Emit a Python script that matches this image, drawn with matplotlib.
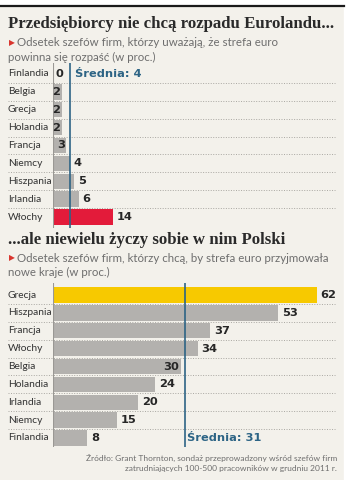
import matplotlib
matplotlib.use("Agg")
import matplotlib.pyplot as plt
from matplotlib.patches import Rectangle
import matplotlib.transforms as mtransforms

# Dane - wykres 1
kraje_1 = ["Finlandia", "Belgia", "Grecja", "Holandia", "Francja",
           "Niemcy", "Hiszpania", "Irlandia", "Włochy"]
wartosci_1 = [0, 2, 2, 2, 3, 4, 5, 6, 14]
kolory_1 = ["#b3b1ae"] * 8 + ["#e31b3a"]
srednia_1 = 4

# Dane - wykres 2
kraje_2 = ["Grecja", "Hiszpania", "Francja", "Włochy", "Belgia",
           "Holandia", "Irlandia", "Niemcy", "Finlandia"]
wartosci_2 = [62, 53, 37, 34, 30, 24, 20, 15, 8]
kolory_2 = ["#f7c900"] + ["#b3b1ae"] * 8
srednia_2 = 31

W, H = 348, 480
TLO = "#f3f1eb"
NIEBIESKI = "#2d6485"
SZARY_TXT = "#6e6e6e"
CIEMNY = "#262626"
FONT = ["Lato", "DejaVu Sans"]

fig = plt.figure(figsize=(W / 100, H / 100), dpi=100)
fig.patch.set_facecolor(TLO)


def fx(px):
    return px / W


def fy(py):
    return 1 - py / H


# biały pas u góry i z prawej strony + czarna linia
fig.patches.append(Rectangle((0, fy(5)), 1, 1 - fy(5), transform=fig.transFigure,
                             color="white", zorder=0))
fig.patches.append(Rectangle((fx(344), 0), 1 - fx(344), 1, transform=fig.transFigure,
                             color="white", zorder=0))
fig.lines.append(plt.Line2D([0, fx(344)], [fy(5.5), fy(5.5)], transform=fig.transFigure,
                            color="#1a1a1a", lw=1.6))


def naglowek(y_tyt, tytul, y_pod, linie):
    fig.text(fx(8), fy(y_tyt), tytul, family="Liberation Serif", weight="bold",
             size=12.1, color="#2a2a2a", va="center", ha="left")
    fig.text(fx(9), fy(y_pod), "▶", family="DejaVu Sans", size=5.5,
             color="#d9352e", va="center", ha="left")
    for i, linia in enumerate(linie):
        x = 17 if i == 0 else 8
        fig.text(fx(x), fy(y_pod + 14 * i), linia, family=FONT, size=8.3,
                 color=SZARY_TXT, va="center", ha="left")


def wykres(y_gora, y_dol, y_pierwszy, krok, kraje, wartosci, kolory, srednia,
           sr_wiersz, sr_dx):
    lewo, prawo = 53, 340
    ax = fig.add_axes([fx(lewo), fy(y_dol), fx(prawo - lewo), (y_dol - y_gora) / H])
    ax.set_facecolor("none")
    ax.set_xlim(0, (prawo - lewo) / 4.25)
    n = len(kraje)
    ax.set_ylim(n - 1 + (y_dol - (y_pierwszy + krok * (n - 1))) / krok,
                -(y_pierwszy - y_gora) / krok)
    for s in ax.spines.values():
        s.set_visible(False)
    ax.set_xticks([])
    ax.set_yticks([])

    pozycje = list(range(n))
    ax.barh(pozycje, wartosci, height=0.86, color=kolory, zorder=2)

    trans = mtransforms.blended_transform_factory(ax.transAxes, ax.transData)
    x_lab = (8 - lewo) / (prawo - lewo)
    for i, (k, v) in enumerate(zip(kraje, wartosci)):
        ax.text(x_lab, i, k, transform=trans, family=FONT, size=7.4,
                color="#333333", va="center", ha="left")
        if v == 0:
            ax.text(0.7, i, str(v), family="DejaVu Sans", weight="bold", size=8.2,
                    color=CIEMNY, va="center", ha="left", zorder=4)
        elif 0 < srednia - v <= 2:
            ax.text(v - 0.25, i, str(v), family="DejaVu Sans", weight="bold", size=8.2,
                    color=CIEMNY, va="center", ha="right", zorder=4)
        else:
            ax.text(v + 0.9, i, str(v), family="DejaVu Sans", weight="bold", size=8.2,
                    color=CIEMNY, va="center", ha="left", zorder=4)
        if i < n - 1:
            ax.plot([x_lab, (335 - lewo) / (prawo - lewo)], [i + 0.5, i + 0.5],
                    transform=trans, color="#a9a7a2", lw=0.7,
                    linestyle=(0, (1, 1.6)), clip_on=False, zorder=1)

    ax.axvline(0, color="#9a9894", lw=0.8, zorder=3)
    ax.axvline(srednia, color=NIEBIESKI, lw=1.2, zorder=3)
    ax.text(srednia + sr_dx, sr_wiersz, "Średnia: %d" % srednia, family="DejaVu Sans",
            weight="bold", size=8.2, color=NIEBIESKI, va="center", ha="left", zorder=4)
    return ax


naglowek(24, "Przedsiębiorcy nie chcą rozpadu Eurolandu...", 43,
         ["Odsetek szefów firm, którzy uważają, że strefa euro",
          "powinna się rozpaść (w proc.)"])
wykres(63, 228, 74, 17.875, kraje_1, wartosci_1, kolory_1, srednia_1, 0, 1.1)

naglowek(240, "...ale niewielu życzy sobie w nim Polski", 258,
         ["Odsetek szefów firm, którzy chcą, by strefa euro przyjmowała",
          "nowe kraje (w proc.)"])
wykres(283, 447, 295, 17.875, kraje_2, wartosci_2, kolory_2, srednia_2, 8, 0.6)

fig.text(fx(337), fy(458), "Źródło: Grant Thornton, sondaż przeprowadzony wśród szefów firm",
         family=FONT, size=6.0, color=SZARY_TXT, ha="right", va="center")
fig.text(fx(337), fy(468), "zatrudniających 100-500 pracowników w grudniu 2011 r.",
         family=FONT, size=6.0, color=SZARY_TXT, ha="right", va="center")

fig.savefig("out.png", dpi=100, facecolor=fig.get_facecolor())
